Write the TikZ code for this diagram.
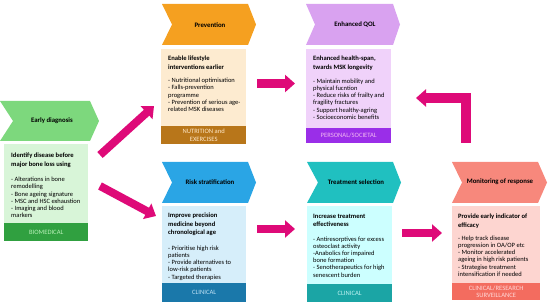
\documentclass[tikz,border=0pt]{standalone}
\usepackage{fontspec}
\setmainfont{Carlito}
\usetikzlibrary{arrows.meta}
\definecolor{apink}{HTML}{DE0A78}
\definecolor{gChev}{HTML}{7DD87D}\definecolor{gBox}{HTML}{D8F5D8}\definecolor{gFoot}{HTML}{30A040}\definecolor{gTxt}{HTML}{B8F0B8}
\definecolor{oChev}{HTML}{F5A020}\definecolor{oBox}{HTML}{FDEBD0}\definecolor{oFoot}{HTML}{B8761A}\definecolor{oTxt}{HTML}{FFE8C8}
\definecolor{pChev}{HTML}{D9A2F0}\definecolor{pBox}{HTML}{F0D2FA}\definecolor{pFoot}{HTML}{9A2EE8}\definecolor{pTxt}{HTML}{F2B8F2}
\definecolor{bChev}{HTML}{2AA5E5}\definecolor{bBox}{HTML}{D6EEFA}\definecolor{bFoot}{HTML}{1A78AA}\definecolor{bTxt}{HTML}{C0E2F5}
\definecolor{tChev}{HTML}{20C0C0}\definecolor{tBox}{HTML}{CCFFFF}\definecolor{tFoot}{HTML}{1BA5A5}\definecolor{tTxt}{HTML}{C0F2F2}
\definecolor{rChev}{HTML}{F7887C}\definecolor{rBox}{HTML}{FDD5D0}\definecolor{rFoot}{HTML}{F36C5F}\definecolor{rTxt}{HTML}{FFD8D8}
\newcommand{\mychev}[7]{%
  \fill[#7] (#1,#2) -- (#5,#2) -- (#6,{(#2+#3)/2}) -- (#5,#3) -- (#1,#3) -- (#4,{(#2+#3)/2}) -- cycle;}
\tikzset{
  panel/.style={anchor=north west, inner sep=0pt, minimum width=#1},
  footbar/.style={anchor=south west, inner sep=0pt},
  titletxt/.style={inner sep=0pt, font=\fontsize{6.8}{8}\selectfont\bfseries},
  headtxt/.style={anchor=north west, inner sep=0pt, align=left, font=\fontsize{6.6}{8.2}\selectfont\bfseries},
  bultxt/.style={anchor=north west, inner sep=0pt, align=left, font=\fontsize{6.5}{7.2}\selectfont},
  foottxt/.style={inner sep=0pt, align=center, font=\fontsize{6.6}{7.8}\selectfont},
  fatarrow/.style={draw=apink, line width=#1, -{Triangle[length=10pt,width=17pt]}},
  fatarrow/.default=8pt
}
\begin{document}
\begin{tikzpicture}[x=1pt,y=-1pt]
\useasboundingbox (0,0) rectangle (550,307);
% chevrons
\mychev{0}{101}{141}{13}{90}{99}{gChev}
\mychev{162}{4}{45}{172}{248}{256}{oChev}
\mychev{306}{4}{45}{315}{393}{400}{pChev}
\mychev{162}{162}{203}{172}{248}{256}{bChev}
\mychev{307}{162}{203}{318}{393}{401}{tChev}
\mychev{452}{162}{203}{462}{538}{547}{rChev}
\node[titletxt] (etitle) at (52,121) {Early diagnosis};
\node[titletxt] (ptitle) at (210,25) {Prevention};
\node[titletxt] (qtitle) at (355,25) {Enhanced QOL};
\node[titletxt] (rtitle) at (210,182) {Risk stratification};
\node[titletxt] (ttitle) at (356,182) {Treatment selection};
\node[titletxt] (mtitle) at (500,182) {Monitoring of response};
% boxes
\node[panel=84pt, minimum height=97pt, fill=gBox] (ebox) at (4,144) {};
\node[footbar, minimum width=84pt, minimum height=18pt, fill=gFoot] (efoot) at (ebox.south west) {};
\node[foottxt, text=gTxt] (efl) at (efoot.center) {BIOMEDICAL};
\node[panel=85pt, minimum height=95pt, fill=oBox] (pbox) at (161,49) {};
\node[footbar, minimum width=85pt, minimum height=18pt, fill=oFoot] (pfoot) at (pbox.south west) {};
\node[foottxt, text=oTxt] (pfl) at (pfoot.center) {NUTRITION and\\EXERCISES};
\node[panel=85pt, minimum height=94pt, fill=pBox] (qbox) at (306,49) {};
\node[footbar, minimum width=85pt, minimum height=15pt, fill=pFoot] (qfoot) at (qbox.south west) {};
\node[foottxt, text=pTxt] (qfl) at (qfoot.center) {PERSONAL/SOCIETAL};
\node[panel=84pt, minimum height=96pt, fill=bBox] (rbox) at (162,206) {};
\node[footbar, minimum width=84pt, minimum height=19pt, fill=bFoot] (rfoot) at (rbox.south west) {};
\node[foottxt, text=bTxt] (rfl) at (rfoot.center) {CLINICAL};
\node[panel=85pt, minimum height=96pt, fill=tBox] (tbox) at (307,206) {};
\node[footbar, minimum width=85pt, minimum height=18pt, fill=tFoot] (tfoot) at (tbox.south west) {};
\node[foottxt, text=tTxt] (tfl) at (tfoot.center) {CLINICAL};
\node[panel=88pt, minimum height=94pt, fill=rBox] (mbox) at (452,206) {};
\node[footbar, minimum width=88pt, minimum height=17pt, fill=rFoot] (mfoot) at (mbox.south west) {};
\node[foottxt, text=rTxt] (mfl) at (mfoot.center) {CLINICAL/RESEARCH\\SURVEILLANCE};
% texts
\node[headtxt] (eh) at (11,153) {Identify disease before\\major bone loss using};
\node[bultxt] (eb) at (11,177) {- Alterations in bone\\remodelling\\- Bone ageing signature\\- MSC and HSC exhaustion\\- Imaging and blood\\markers};
\node[headtxt] (ph) at (168,56) {Enable lifestyle\\interventions earlier};
\node[bultxt] (pb) at (168,78) {- Nutritional optimisation\\- Falls-prevention\\programme\\- Prevention of serious age-\\related MSK diseases};
\node[headtxt] (qh) at (313,56) {Enhanced health-span,\\twards MSK longevity};
\node[bultxt] (qb) at (313,78.5) {- Maintain mobility and\\physical fucntion\\- Reduce risks of frailty and\\fragility fractures\\- Support healthy-agring\\- Socioeconomic benefits};
\node[headtxt] (rh) at (168,213) {Improve precision\\medicine beyond\\chronological age};
\node[bultxt] (rb) at (168,245.5) {- Prioritise high risk\\patients\\- Provide alternatives to\\low-risk patients\\- Targeted therapies};
\node[headtxt] (th) at (313,214) {Increase treatment\\effectiveness};
\node[bultxt] (tb) at (313,236.5) {- Antiresorptives for excess\\osteoclast activity\\-Anabolics for impaired\\bone formation\\- Senotherapeutics for high\\senescent burden};
\node[headtxt] (mh) at (458,214) {Provide early indicator of\\efficacy};
\node[bultxt] (mb) at (458,235.5) {- Help track disease\\progression in OA/OP etc\\- Monitor accelerated\\ageing in high risk patients\\- Strategise treatment\\intensification if needed};
% arrows
\coordinate (a1s) at (100,155); \coordinate (a1e) at (154,106);
\coordinate (a2s) at (100,186); \coordinate (a2e) at (156,216);
\coordinate (a3s) at (257,83.5); \coordinate (a3e) at (295,83.5);
\coordinate (a4s) at (257,229); \coordinate (a4e) at (295,229);
\coordinate (a5s) at (402,233); \coordinate (a5e) at (442,233);
\coordinate (a6s) at (466,143); \coordinate (a6c) at (466,98); \coordinate (a6e) at (416,98);
\draw[fatarrow] (a1s) -- (a1e);
\draw[fatarrow] (a2s) -- (a2e);
\draw[fatarrow=9pt] (a3s) -- (a3e);
\draw[fatarrow] (a4s) -- (a4e);
\draw[fatarrow] (a5s) -- (a5e);
\draw[fatarrow=10pt, line join=miter] (a6s) -- (a6c) -- (a6e);
\end{tikzpicture}
\end{document}
